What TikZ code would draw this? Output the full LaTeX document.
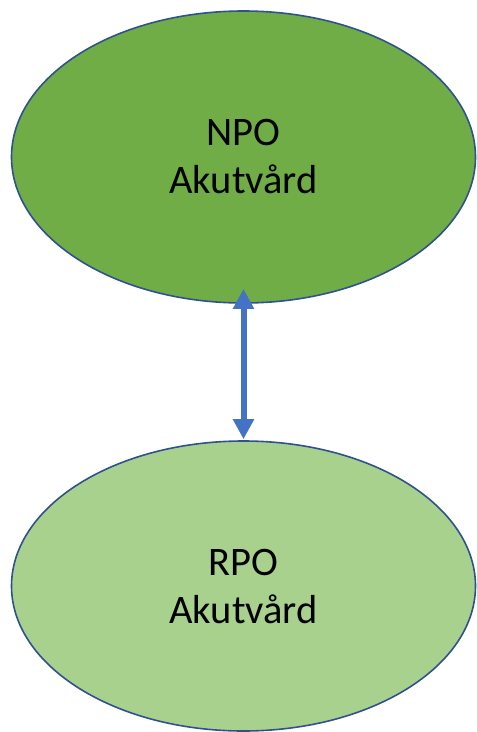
\documentclass[tikz,border=0pt]{standalone}
\usepackage{fontspec}
\setmainfont{Carlito}
\usetikzlibrary{shapes.geometric,arrows.meta}
\definecolor{npogreen}{HTML}{70AD47}
\definecolor{rpogreen}{HTML}{A9D18E}
\definecolor{rimblue}{HTML}{2F528F}
\definecolor{arrowblue}{HTML}{4472C4}
\tikzset{
	po/.style={ellipse, draw=rimblue, line width=1.6pt, inner sep=0pt,
		minimum width=464pt, minimum height=292pt, align=center,
		font=\fontsize{40.5}{48}\selectfont},
	link/.style={draw=arrowblue, line width=6pt,
		{Triangle[width=20pt,length=20pt]}-{Triangle[width=20pt,length=20pt]}}
}
\begin{document}
\begin{tikzpicture}[x=1pt, y=-1pt]
		% рамка
		\useasboundingbox ( 0, 0 ) rectangle ( 477, 732 );

		% NPO
		\node [po, fill=npogreen] (npo) at ( 243.5, 157 ) {NPO\\Akutvård};

		% RPO
		\node [po, fill=rpogreen, minimum height=290pt] (rpo) at ( 243.5, 586 ) {RPO\\Akutvård};

		% связь
		\draw [link, shorten <=-15pt, shorten >=1pt] (npo.south) -- (rpo.north);
	\end{tikzpicture}
\end{document}
